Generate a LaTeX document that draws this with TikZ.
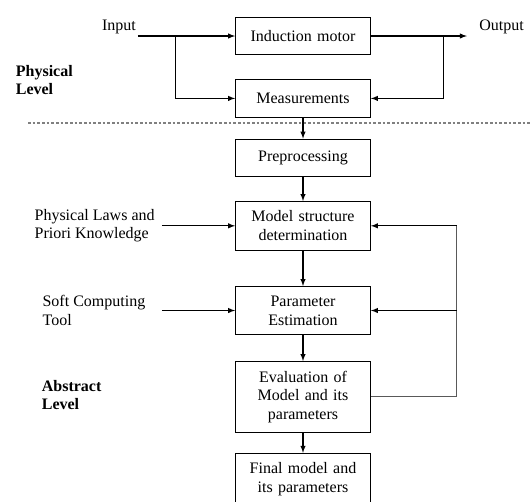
\documentclass[tikz,border=0pt]{standalone}
\usepackage{fontspec}
\setmainfont{Liberation Serif}
\usetikzlibrary{positioning,arrows}
\def\dx{55pt}
\def\dy{18pt}
\tikzstyle{block}=[draw,rectangle,minimum width=101pt,minimum height=28pt,text width=90pt,align=center,inner ysep=7pt,font=\fontsize{12}{14}\selectfont]
\tikzstyle{txt}=[align=left,inner sep=1pt,font=\fontsize{12}{14}\selectfont]
\tikzstyle{level}=[txt,font=\fontsize{12}{14}\selectfont\bfseries]
\newcommand{\newBlock}[3]{\node[block,#3](#1){#2};}
\newcommand{\newArrow}[3]{\draw[->,#3] (#1) -- (#2);}

\begin{document}
\begin{tikzpicture}[x=0.75pt,y=-0.75pt,node distance=\dy and \dx,
      >=latex,line width=0.8pt
      ]
      \useasboundingbox (0,0) rectangle (532,501);
      % blocks
      \newBlock{motor}{Induction motor}{at={(303,36)}}
      \newBlock{meas}{Measurements}{below=of motor}
      \newBlock{prep}{Preprocessing}{below=15.75pt of meas}
      \newBlock{model}{Model structure\\determination}{below=of prep}
      \newBlock{param}{Parameter\\Estimation}{below=26.5pt of model}
      \newBlock{eval}{Evaluation of\\Model and its\\parameters}{below=19.5pt of param}
      \newBlock{final}{Final model and\\its parameters}{below=15pt of eval}
      % physical level
      \coordinate[left=73pt of motor.west] (inp);
      \coordinate[right=28.5pt of inp] (split);
      \coordinate[right=72pt of motor.east] (outp);
      \coordinate[right=54.75pt of motor.east] (split2);
      \node[txt,anchor=south east] (in) at (inp) {Input};
      \node[txt,anchor=south west,xshift=8pt] (out) at (outp) {Output};
      \newArrow{inp}{motor}{}
      \newArrow{motor}{outp}{}
      \draw[->] (split) |- (meas);
      \draw[->] (split2) |- (meas);
      \node[level,anchor=west] (phys) at (14,80) {Physical\\Level};
      \draw[gray,dash pattern=on 2pt off 1.5pt,line width=1pt] (28,123) -- (532,123);
      % abstract level
      \newArrow{meas}{prep}{}
      \newArrow{prep}{model}{}
      \newArrow{model}{param}{}
      \newArrow{param}{eval}{}
      \newArrow{eval}{final}{}
      \coordinate[left=\dx of model.west] (lawsin);
      \coordinate[left=\dx of param.west] (softin);
      \node[txt,left=4pt of lawsin] (laws) {Physical Laws and\\Priori Knowledge};
      \node[txt,left=11pt of softin] (soft) {Soft Computing\\Tool};
      \newArrow{lawsin}{model}{}
      \newArrow{softin}{param}{}
      % feedback
      \coordinate[right=64.5pt of eval.east] (fb);
      \draw[gray!70!black] (eval) -- (fb) -- (fb |- model);
      \newArrow{fb |- model}{model}{}
      \newArrow{fb |- param}{param}{}
      \node[level,anchor=west] (abs) at (40,395) {Abstract\\Level};
    \end{tikzpicture}
\end{document}
